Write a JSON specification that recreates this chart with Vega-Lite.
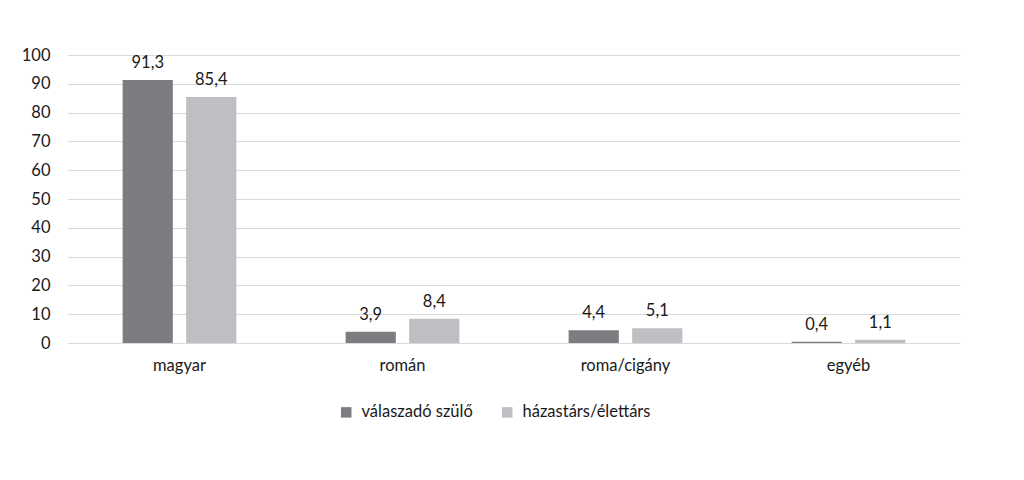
{
  "$schema": "https://vega.github.io/schema/vega-lite/v6.json",
  "width": 892,
  "height": 288,
  "autosize": {"type": "none"},
  "padding": {"left": 68, "top": 55, "right": 64, "bottom": 137},
  "background": "white",
  "config": {
    "view": {"stroke": null},
    "font": "Lato",
    "locale": {"number": {"decimal": ",", "thousands": " ", "grouping": [3], "currency": ["", " Ft"]}}
  },
  "data": {
    "values": [
      {"category": "magyar", "group": "válaszadó szülő", "value": 91.3},
      {"category": "magyar", "group": "házastárs/élettárs", "value": 85.4},
      {"category": "román", "group": "válaszadó szülő", "value": 3.9},
      {"category": "román", "group": "házastárs/élettárs", "value": 8.4},
      {"category": "roma/cigány", "group": "válaszadó szülő", "value": 4.4},
      {"category": "roma/cigány", "group": "házastárs/élettárs", "value": 5.1},
      {"category": "egyéb", "group": "válaszadó szülő", "value": 0.4},
      {"category": "egyéb", "group": "házastárs/élettárs", "value": 1.1}
    ]
  },
  "encoding": {
    "x": {
      "field": "category", "type": "nominal", "sort": null,
      "scale": {"paddingInner": 0.49, "paddingOuter": 0.245},
      "axis": {"title": null, "labelAngle": 0, "domain": false, "ticks": false, "labelFontSize": 16.5, "labelColor": "#1a1a1a", "labelPadding": 14}
    },
    "xOffset": {
      "field": "group", "type": "nominal",
      "sort": ["válaszadó szülő", "házastárs/élettárs"],
      "scale": {"paddingInner": 0.21}
    },
    "y": {
      "field": "value", "type": "quantitative",
      "scale": {"domain": [0, 100]},
      "axis": {"title": null, "values": [0,10,20,30,40,50,60,70,80,90,100], "format": "d", "domain": false, "ticks": false, "labelFontSize": 16.5, "labelColor": "#1a1a1a", "labelPadding": 18, "gridColor": "#d9d9d9", "gridWidth": 1.2}
    }
  },
  "layer": [
    {
      "mark": {"type": "bar"},
      "encoding": {
        "color": {
          "field": "group", "type": "nominal",
          "sort": ["válaszadó szülő", "házastárs/élettárs"],
          "scale": {"domain": ["válaszadó szülő", "házastárs/élettárs"], "range": ["#7c7d81", "#bebfc3"]},
          "legend": {
            "title": null, "orient": "none", "direction": "horizontal",
            "legendX": 270, "legendY": 349,
            "symbolType": "square", "symbolSize": 110, "symbolStrokeWidth": 0,
            "labelFontSize": 16.5, "labelColor": "#1a1a1a", "labelOffset": 7, "columnPadding": 26
          }
        }
      }
    },
    {
      "mark": {"type": "text", "baseline": "alphabetic", "dy": -12, "fontSize": 16.5, "color": "#1a1a1a"},
      "encoding": {
        "text": {"field": "value", "type": "quantitative", "format": ".1f"}
      }
    }
  ]
}
